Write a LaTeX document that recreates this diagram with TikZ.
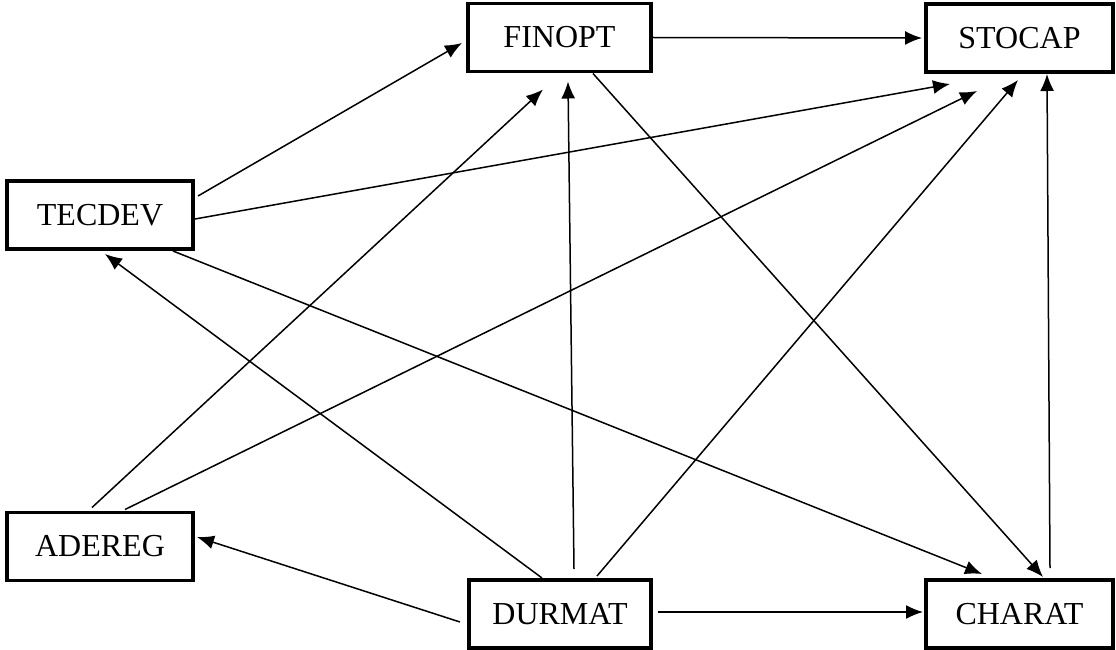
\documentclass[tikz,border=0pt]{standalone}
\usepackage{fontspec}
\setmainfont{Liberation Serif}
\usetikzlibrary{arrows.meta}
\begin{document}
\begin{tikzpicture}[x=1pt,y=-1pt,
  box/.style={draw=black,line width=3.2pt,fill=white,inner sep=0pt,outer sep=0pt,
    minimum height=68pt,font=\fontsize{32}{36}\selectfont},
  arr/.style={line width=1.5pt,-{Latex[length=17pt,width=14pt]}}]
\useasboundingbox (0,0) rectangle (1116,650);
\node[box,minimum width=183pt] (fin) at (559.5,37.5) {FINOPT};
\node[box,minimum width=187pt] (sto) at (1019.5,38) {STOCAP};
\node[box,minimum width=186pt] (tec) at (100,215) {TECDEV};
\node[box,minimum width=186pt] (ade) at (100,546.5) {ADEREG};
\node[box,minimum width=182pt] (dur) at (560,614) {DURMAT};
\node[box,minimum width=187pt] (cha) at (1019.5,614) {CHARAT};
% edges
\draw[arr] ([shift={(5,15)}]tec.north east) -- ([shift={(-6,5.5)}]fin.west);
\draw[arr] ([shift={(2,0)}]fin.east) -- ([shift={(-4,0)}]sto.west);
\draw[arr] ([shift={(2,4)}]tec.east) -- ([shift={(24,12)}]sto.south west);
\draw[arr] ([shift={(-20,2)}]tec.south east) -- ([shift={(56,-6)}]cha.north west);
\draw[arr] ([shift={(-8,-5)}]ade.north) -- ([shift={(-16.5,18)}]fin.south);
\draw[arr] ([shift={(25,-3)}]ade.north) -- ([shift={(-42.5,19)}]sto.south);
\draw[arr] ([shift={(-18,-2)}]dur.north) -- ([shift={(5,5)}]tec.south);
\draw[arr] ([shift={(14,-11)}]dur.north) -- ([shift={(8.5,10)}]fin.south);
\draw[arr] ([shift={(37,-4)}]dur.north) -- ([shift={(-1.5,8)}]sto.south);
\draw[arr] ([shift={(-9,8)}]dur.west) -- ([shift={(4,-9.5)}]ade.east);
\draw[arr] ([shift={(7,-2)}]dur.east) -- ([shift={(-3,-2)}]cha.west);
\draw[arr] ([shift={(33.5,2)}]fin.south) -- ([shift={(23.5,-3)}]cha.north);
\draw[arr] ([shift={(30.5,-12)}]cha.north) -- ([shift={(27.5,2)}]sto.south);
\end{tikzpicture}
\end{document}
